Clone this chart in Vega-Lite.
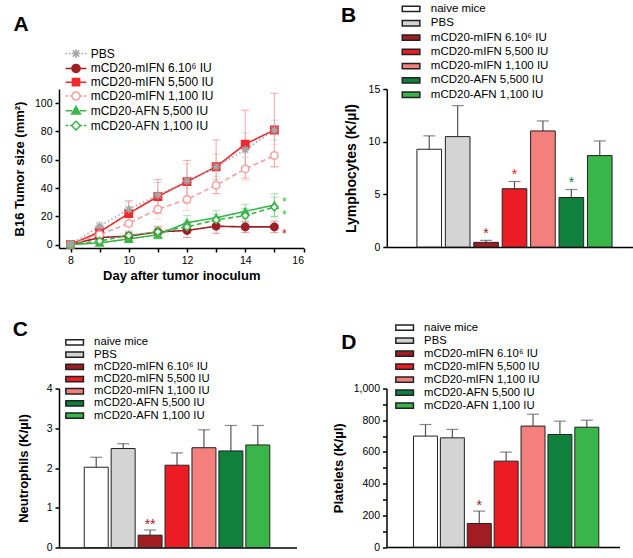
{
  "$schema": "https://vega.github.io/schema/vega-lite/v6.json",
  "background": "white",
  "padding": {"left": 12, "top": 3, "right": 0, "bottom": 0},
  "config": {
    "view": {"stroke": null},
    "font": "Liberation Sans",
    "axis": {"domainColor": "#000", "domainWidth": 1.5, "tickColor": "#000", "tickWidth": 1.5, "tickSize": 4, "labelColor": "#000", "labelFontSize": 10.5, "labelPadding": 3, "titleColor": "#000", "titleFontWeight": "bold", "titleFontSize": 13, "grid": false, "labelFont": "Liberation Sans", "titleFont": "Liberation Sans"},
    "legend": {"labelColor": "#000", "labelFont": "Liberation Sans", "padding": 0, "titlePadding": 0},
    "title": {"font": "Liberation Sans", "fontWeight": "bold", "fontSize": 21, "color": "#000", "anchor": "start", "frame": "bounds", "baseline": "alphabetic", "offset": 0}
  },
  "datasets": {
    "tumor": [
      {"g": "mCD20-mIFN 6.10⁶ IU", "day": 8, "v": 0, "se": 0},
      {"g": "mCD20-mIFN 6.10⁶ IU", "day": 9, "v": 5, "se": 2},
      {"g": "mCD20-mIFN 6.10⁶ IU", "day": 10, "v": 6, "se": 3},
      {"g": "mCD20-mIFN 6.10⁶ IU", "day": 11, "v": 9, "se": 4},
      {"g": "mCD20-mIFN 6.10⁶ IU", "day": 12, "v": 10, "se": 5},
      {"g": "mCD20-mIFN 6.10⁶ IU", "day": 13, "v": 13, "se": 5},
      {"g": "mCD20-mIFN 6.10⁶ IU", "day": 14, "v": 12.5, "se": 4},
      {"g": "mCD20-mIFN 6.10⁶ IU", "day": 15, "v": 12.5, "se": 4},
      {"g": "mCD20-mIFN 5,500 IU", "day": 8, "v": 0, "se": 0},
      {"g": "mCD20-mIFN 5,500 IU", "day": 9, "v": 9, "se": 4},
      {"g": "mCD20-mIFN 5,500 IU", "day": 10, "v": 22, "se": 9},
      {"g": "mCD20-mIFN 5,500 IU", "day": 11, "v": 34, "se": 12},
      {"g": "mCD20-mIFN 5,500 IU", "day": 12, "v": 44.5, "se": 15},
      {"g": "mCD20-mIFN 5,500 IU", "day": 13, "v": 55, "se": 19},
      {"g": "mCD20-mIFN 5,500 IU", "day": 14, "v": 71, "se": 24},
      {"g": "mCD20-mIFN 5,500 IU", "day": 15, "v": 81, "se": 26},
      {"g": "mCD20-mIFN 1,100 IU", "day": 8, "v": 0, "se": 0},
      {"g": "mCD20-mIFN 1,100 IU", "day": 9, "v": 7, "se": 3},
      {"g": "mCD20-mIFN 1,100 IU", "day": 10, "v": 15, "se": 5},
      {"g": "mCD20-mIFN 1,100 IU", "day": 11, "v": 25, "se": 7},
      {"g": "mCD20-mIFN 1,100 IU", "day": 12, "v": 32, "se": 8},
      {"g": "mCD20-mIFN 1,100 IU", "day": 13, "v": 42, "se": 6},
      {"g": "mCD20-mIFN 1,100 IU", "day": 14, "v": 53.5, "se": 8},
      {"g": "mCD20-mIFN 1,100 IU", "day": 15, "v": 63, "se": 8},
      {"g": "mCD20-AFN 5,500 IU", "day": 8, "v": 0, "se": 0},
      {"g": "mCD20-AFN 5,500 IU", "day": 9, "v": 1.2, "se": 1},
      {"g": "mCD20-AFN 5,500 IU", "day": 10, "v": 4, "se": 2},
      {"g": "mCD20-AFN 5,500 IU", "day": 11, "v": 7, "se": 3},
      {"g": "mCD20-AFN 5,500 IU", "day": 12, "v": 15.5, "se": 5},
      {"g": "mCD20-AFN 5,500 IU", "day": 13, "v": 19, "se": 5},
      {"g": "mCD20-AFN 5,500 IU", "day": 14, "v": 23.5, "se": 5},
      {"g": "mCD20-AFN 5,500 IU", "day": 15, "v": 28, "se": 8},
      {"g": "mCD20-AFN 1,100 IU", "day": 8, "v": 0, "se": 0},
      {"g": "mCD20-AFN 1,100 IU", "day": 9, "v": 2.5, "se": 1},
      {"g": "mCD20-AFN 1,100 IU", "day": 10, "v": 6.5, "se": 2},
      {"g": "mCD20-AFN 1,100 IU", "day": 11, "v": 9, "se": 3},
      {"g": "mCD20-AFN 1,100 IU", "day": 12, "v": 12.5, "se": 4},
      {"g": "mCD20-AFN 1,100 IU", "day": 13, "v": 17.5, "se": 4},
      {"g": "mCD20-AFN 1,100 IU", "day": 14, "v": 20.5, "se": 5},
      {"g": "mCD20-AFN 1,100 IU", "day": 15, "v": 26.5, "se": 7},
      {"g": "PBS", "day": 8, "v": 0, "se": 0},
      {"g": "PBS", "day": 9, "v": 13, "se": 3},
      {"g": "PBS", "day": 10, "v": 25, "se": 5},
      {"g": "PBS", "day": 11, "v": 35, "se": 9},
      {"g": "PBS", "day": 12, "v": 45, "se": 12},
      {"g": "PBS", "day": 13, "v": 55, "se": 9},
      {"g": "PBS", "day": 14, "v": 67, "se": 12},
      {"g": "PBS", "day": 15, "v": 81, "se": 7}
    ],
    "astar": [
      {"g": "mCD20-AFN 5,500 IU", "day": 15, "at": 33, "sig": "*"},
      {"g": "mCD20-AFN 1,100 IU", "day": 15, "at": 24, "sig": "*"},
      {"g": "mCD20-mIFN 6.10⁶ IU", "day": 15, "at": 10, "sig": "*"}
    ],
    "lym": [
      {"g": "naive mice", "v": 9.28, "hi": 10.55, "sig": ""},
      {"g": "PBS", "v": 10.48, "hi": 13.42, "sig": ""},
      {"g": "mCD20-mIFN 6.10⁶ IU", "v": 0.44, "hi": 0.63, "sig": "*"},
      {"g": "mCD20-mIFN 5,500 IU", "v": 5.53, "hi": 6.22, "sig": "*"},
      {"g": "mCD20-mIFN 1,100 IU", "v": 11.02, "hi": 11.97, "sig": ""},
      {"g": "mCD20-AFN 5,500 IU", "v": 4.7, "hi": 5.46, "sig": "*"},
      {"g": "mCD20-AFN 1,100 IU", "v": 8.68, "hi": 10.07, "sig": ""}
    ],
    "neu": [
      {"g": "naive mice", "v": 2.02, "hi": 2.27, "sig": ""},
      {"g": "PBS", "v": 2.49, "hi": 2.61, "sig": ""},
      {"g": "mCD20-mIFN 6.10⁶ IU", "v": 0.31, "hi": 0.44, "sig": "**"},
      {"g": "mCD20-mIFN 5,500 IU", "v": 2.07, "hi": 2.38, "sig": ""},
      {"g": "mCD20-mIFN 1,100 IU", "v": 2.51, "hi": 2.96, "sig": ""},
      {"g": "mCD20-AFN 5,500 IU", "v": 2.43, "hi": 3.07, "sig": ""},
      {"g": "mCD20-AFN 1,100 IU", "v": 2.58, "hi": 3.07, "sig": ""}
    ],
    "plt": [
      {"g": "naive mice", "v": 700, "hi": 773, "sig": ""},
      {"g": "PBS", "v": 689, "hi": 742, "sig": ""},
      {"g": "mCD20-mIFN 6.10⁶ IU", "v": 149, "hi": 227, "sig": "*"},
      {"g": "mCD20-mIFN 5,500 IU", "v": 542, "hi": 599, "sig": ""},
      {"g": "mCD20-mIFN 1,100 IU", "v": 763, "hi": 838, "sig": ""},
      {"g": "mCD20-AFN 5,500 IU", "v": 710, "hi": 794, "sig": ""},
      {"g": "mCD20-AFN 1,100 IU", "v": 756, "hi": 800, "sig": ""}
    ]
  },
  "spacing": 36.5,
  "resolve": {"scale": {"color": "independent", "fill": "independent", "shape": "independent", "strokeDash": "independent"}, "legend": {"color": "independent", "fill": "independent", "shape": "independent", "strokeDash": "independent"}},
  "vconcat": [
    {
      "bounds": "flush",
      "spacing": 82.8,
      "resolve": {"scale": {"color": "independent", "fill": "independent", "shape": "independent", "strokeDash": "independent"}, "legend": {"color": "independent", "fill": "independent", "shape": "independent", "strokeDash": "independent"}},
      "hconcat": [
        {
          "width": 244.5,
          "height": 159,
          "title": {"text": "A", "offset": 13, "dx": 0},
          "data": {"name": "tumor"},
          "encoding": {
            "x": {"field": "day", "type": "quantitative", "scale": {"domain": [7.605, 16], "nice": false, "zero": false},
              "axis": {"values": [8, 9, 10, 11, 12, 13, 14, 15, 16], "labelExpr": "datum.value % 2 == 0 ? datum.label : ''", "labelOverlap": false, "labelPadding": 3, "title": "Day after tumor inoculum", "titlePadding": 3.5}},
            "y": {"field": "v", "type": "quantitative", "title": "B16 Tumor size (mm²)", "scale": {"domain": [-2.4, 110], "nice": false, "zero": false},
              "axis": {"values": [0, 20, 40, 60, 80, 100], "labelOverlap": false, "titlePadding": 8}}
          },
          "layer": [
            {
              "mark": {"type": "line", "strokeWidth": 1.6},
              "encoding": {
                "color": {"field": "g", "type": "nominal",
                  "scale": {"domain": ["PBS", "mCD20-mIFN 6.10⁶ IU", "mCD20-mIFN 5,500 IU", "mCD20-mIFN 1,100 IU", "mCD20-AFN 5,500 IU", "mCD20-AFN 1,100 IU"],
                    "range": ["#a6a6a6", "#9e1f24", "#ee2a2f", "#f4a0a0", "#3cb54a", "#3cb54a"]},
                  "legend": {"title": null, "orient": "none", "legendX": 11, "legendY": -41.4, "symbolSize": 64, "labelFontSize": 12, "labelOffset": 8.7, "rowPadding": -0.2, "symbolStrokeWidth": 1.5,
                    "encode": {"symbols": {"update": {
                      "shape": {"signal": "['M-2.6,0L-2.2,0M-1.8,0L-1.4,0M1.4,0L1.8,0M2.2,0L2.6,0M0,-1.1L0,1.1M-1.1,0L1.1,0M-0.8,-0.8L0.8,0.8M-0.8,0.8L0.8,-0.8','M-2.6,0L-1,0M1,0L2.6,0M1,0A1,1,0,1,1,-1,0A1,1,0,1,1,1,0Z','M-2.6,0L-0.9,0M0.9,0L2.6,0M-0.9,-0.9L0.9,-0.9L0.9,0.9L-0.9,0.9Z','M-2.6,0L-1.9,0M-1.5,0L-1,0M1,0L1.5,0M1.9,0L2.6,0M1,0A1,1,0,1,1,-1,0A1,1,0,1,1,1,0Z','M-2.6,0L-1,0M1,0L2.6,0M0,-1.1L1.1,0.8L-1.1,0.8Z','M-2.6,0L-1.9,0M-1.5,0L-1.1,0M1.1,0L1.5,0M1.9,0L2.6,0M0,-1.1L1.1,0L0,1.1L-1.1,0Z'][indexof(['PBS','mCD20-mIFN 6.10⁶ IU','mCD20-mIFN 5,500 IU','mCD20-mIFN 1,100 IU','mCD20-AFN 5,500 IU','mCD20-AFN 1,100 IU'], datum.value)]"},
                      "fill": {"signal": "['#ffffff','#9e1f24','#ee2a2f','#ffffff','#3cb54a','#ffffff'][indexof(['PBS','mCD20-mIFN 6.10⁶ IU','mCD20-mIFN 5,500 IU','mCD20-mIFN 1,100 IU','mCD20-AFN 5,500 IU','mCD20-AFN 1,100 IU'], datum.value)]"},
                      "fillOpacity": {"signal": "[1,1,1,0,1,0][indexof(['PBS','mCD20-mIFN 6.10⁶ IU','mCD20-mIFN 5,500 IU','mCD20-mIFN 1,100 IU','mCD20-AFN 5,500 IU','mCD20-AFN 1,100 IU'], datum.value)]"},
                      "strokeDash": {"value": [1, 0]},
                      "strokeWidth": {"value": 1.5},
                      "opacity": {"value": 1}
                    }}}}},
                "strokeDash": {"field": "g", "type": "nominal", "legend": null,
                  "scale": {"domain": ["mCD20-mIFN 6.10⁶ IU", "mCD20-mIFN 5,500 IU", "mCD20-mIFN 1,100 IU", "mCD20-AFN 5,500 IU", "mCD20-AFN 1,100 IU", "PBS"],
                    "range": [[1, 0], [1, 0], [5, 3], [1, 0], [5, 3], [1.5, 2.5]]}}
              }
            },
            {
              "mark": {"type": "errorbar", "thickness": 1, "ticks": {"size": 8, "opacity": 0.4}, "rule": {"opacity": 0.4}},
              "encoding": {
                "yError": {"field": "se"},
                "color": {"field": "g", "type": "nominal"}
              }
            },
            {
              "mark": {"type": "point", "filled": false, "strokeWidth": 1.5, "size": 55, "opacity": 1},
              "encoding": {
                "color": {"field": "g", "type": "nominal"},
                "fill": {"field": "g", "type": "nominal", "legend": null,
                  "scale": {"domain": ["mCD20-mIFN 6.10⁶ IU", "mCD20-mIFN 5,500 IU", "mCD20-mIFN 1,100 IU", "mCD20-AFN 5,500 IU", "mCD20-AFN 1,100 IU", "PBS"],
                    "range": ["#9e1f24", "#ee2a2f", "#ffffff", "#3cb54a", "#ffffff", "#a6a6a6"]}},
                "shape": {"field": "g", "type": "nominal", "legend": null,
                  "scale": {"domain": ["mCD20-mIFN 6.10⁶ IU", "mCD20-mIFN 5,500 IU", "mCD20-mIFN 1,100 IU", "mCD20-AFN 5,500 IU", "mCD20-AFN 1,100 IU", "PBS"],
                    "range": ["circle", "square", "circle", "triangle-up", "diamond", "M0,-1.1L0,1.1M-1.1,0L1.1,0M-0.8,-0.8L0.8,0.8M-0.8,0.8L0.8,-0.8"]}}
              }
            },
            {
              "data": {"name": "astar"},
              "mark": {"type": "text", "fontSize": 12, "dx": 10, "dy": 4, "baseline": "middle", "align": "center"},
              "encoding": {
                "y": {"field": "at", "type": "quantitative"},
                "text": {"field": "sig"},
                "color": {"field": "g", "type": "nominal"}
              }
            }
          ]
        },
        {
          "width": 252,
          "height": 158,
          "title": {"text": "B", "dy": 26.8, "dx": -3},
          "data": {"name": "lym"},
          "encoding": {
            "x": {"field": "g", "type": "nominal", "sort": null, "scale": {"paddingInner": 0.133, "paddingOuter": 1.21, "align": 0.53},
              "axis": {"labels": false, "ticks": false, "title": null}},
            "y": {"field": "v", "type": "quantitative", "title": "Lymphocytes (K/µl)", "scale": {"domain": [0, 15], "nice": false},
              "axis": {"values": [0, 5, 10, 15], "labelOverlap": false, "titleFontSize": 14, "titlePadding": 10}}
          },
          "layer": [
            {"mark": {"type": "rule", "color": "#555", "strokeWidth": 1.2},
              "encoding": {"y2": {"field": "hi"}}},
            {"mark": {"type": "tick", "color": "#555", "thickness": 1.2, "size": 12},
              "encoding": {"y": {"field": "hi", "type": "quantitative", "title": "Lymphocytes (K/µl)"}}},
            {"mark": {"type": "bar", "stroke": "#222", "strokeWidth": 1},
              "encoding": {
                "fill": {"field": "g", "type": "nominal",
                  "scale": {"domain": ["naive mice", "PBS", "mCD20-mIFN 6.10⁶ IU", "mCD20-mIFN 5,500 IU", "mCD20-mIFN 1,100 IU", "mCD20-AFN 5,500 IU", "mCD20-AFN 1,100 IU"],
                    "range": ["#ffffff", "#d4d4d4", "#a11d22", "#ec1c24", "#f4807e", "#10803d", "#39b54a"]},
                  "legend": {"title": null, "orient": "none", "legendX": 18.5, "legendY": -85.8, "symbolType": "M-2.2,-0.66L2.2,-0.66L2.2,0.66L-2.2,0.66Z", "symbolSize": 64, "labelFontSize": 11.5, "labelOffset": 14, "rowPadding": 1.3,
                    "encode": {"symbols": {"update": {"stroke": {"value": "#000"}, "strokeWidth": {"value": 1}, "opacity": {"value": 1}}}}}}}},
            {"mark": {"type": "text", "fontSize": 14, "dy": -2, "baseline": "alphabetic"},
              "encoding": {"y": {"field": "hi", "type": "quantitative", "title": "Lymphocytes (K/µl)"}, "text": {"field": "sig"},
                "fill": {"field": "g", "type": "nominal"}}}
          ]
        }
      ]
    },
    {
      "bounds": "flush",
      "spacing": 89.5,
      "resolve": {"scale": {"color": "independent", "fill": "independent", "shape": "independent", "strokeDash": "independent"}, "legend": {"color": "independent", "fill": "independent", "shape": "independent", "strokeDash": "independent"}},
      "hconcat": [
        {
          "width": 237.5,
          "height": 159,
          "title": {"text": "C", "dy": 7.3, "dx": -5},
          "data": {"name": "neu"},
          "encoding": {
            "x": {"field": "g", "type": "nominal", "sort": null, "scale": {"paddingInner": 0.11, "paddingOuter": 0.964, "align": 0.486},
              "axis": {"labels": false, "ticks": false, "title": null}},
            "y": {"field": "v", "type": "quantitative", "title": "Neutrophils (K/µl)", "scale": {"domain": [0, 4], "nice": false},
              "axis": {"values": [0, 1, 2, 3, 4], "labelOverlap": false, "titlePadding": 15.5}}
          },
          "layer": [
            {"mark": {"type": "rule", "color": "#555", "strokeWidth": 1.2},
              "encoding": {"y2": {"field": "hi"}}},
            {"mark": {"type": "tick", "color": "#555", "thickness": 1.2, "size": 12},
              "encoding": {"y": {"field": "hi", "type": "quantitative", "title": "Neutrophils (K/µl)"}}},
            {"mark": {"type": "bar", "stroke": "#222", "strokeWidth": 1},
              "encoding": {
                "fill": {"field": "g", "type": "nominal",
                  "scale": {"domain": ["naive mice", "PBS", "mCD20-mIFN 6.10⁶ IU", "mCD20-mIFN 5,500 IU", "mCD20-mIFN 1,100 IU", "mCD20-AFN 5,500 IU", "mCD20-AFN 1,100 IU"],
                    "range": ["#ffffff", "#d4d4d4", "#a11d22", "#ec1c24", "#f4807e", "#10803d", "#39b54a"]},
                  "legend": {"title": null, "orient": "none", "legendX": 10, "legendY": -51.7, "symbolType": "M-2.2,-0.66L2.2,-0.66L2.2,0.66L-2.2,0.66Z", "symbolSize": 64, "labelFontSize": 11.3, "labelOffset": 13.8, "rowPadding": -0.8,
                    "encode": {"symbols": {"update": {"stroke": {"value": "#000"}, "strokeWidth": {"value": 1}, "opacity": {"value": 1}}}}}}}},
            {"mark": {"type": "text", "fontSize": 14, "dy": -1, "baseline": "alphabetic"},
              "encoding": {"y": {"field": "hi", "type": "quantitative", "title": "Neutrophils (K/µl)"}, "text": {"field": "sig"},
                "fill": {"field": "g", "type": "nominal"}}}
          ]
        },
        {
          "width": 233,
          "height": 158.6,
          "title": {"text": "D", "dy": 34.6, "dx": 9},
          "data": {"name": "plt"},
          "encoding": {
            "x": {"field": "g", "type": "nominal", "sort": null, "scale": {"paddingInner": 0.108, "paddingOuter": 0.887, "align": 0.566},
              "axis": {"labels": false, "ticks": false, "title": null}},
            "y": {"field": "v", "type": "quantitative", "title": "Platelets (K/µl)", "scale": {"domain": [0, 1000], "nice": false},
              "axis": {"values": [0, 100, 200, 300, 400, 500, 600, 700, 800, 900, 1000], "format": ",d", "labelExpr": "datum.value % 200 == 0 ? datum.label : ''", "labelOverlap": false, "titlePadding": 8}}
          },
          "layer": [
            {"mark": {"type": "rule", "color": "#555", "strokeWidth": 1.2},
              "encoding": {"y2": {"field": "hi"}}},
            {"mark": {"type": "tick", "color": "#555", "thickness": 1.2, "size": 12},
              "encoding": {"y": {"field": "hi", "type": "quantitative", "title": "Platelets (K/µl)"}}},
            {"mark": {"type": "bar", "stroke": "#222", "strokeWidth": 1},
              "encoding": {
                "fill": {"field": "g", "type": "nominal",
                  "scale": {"domain": ["naive mice", "PBS", "mCD20-mIFN 6.10⁶ IU", "mCD20-mIFN 5,500 IU", "mCD20-mIFN 1,100 IU", "mCD20-AFN 5,500 IU", "mCD20-AFN 1,100 IU"],
                    "range": ["#ffffff", "#d4d4d4", "#a11d22", "#ec1c24", "#f4807e", "#10803d", "#39b54a"]},
                  "legend": {"title": null, "orient": "none", "legendX": 12.5, "legendY": -66.6, "symbolType": "M-2.2,-0.66L2.2,-0.66L2.2,0.66L-2.2,0.66Z", "symbolSize": 64, "labelFontSize": 11.3, "labelOffset": 13.8, "rowPadding": 0,
                    "encode": {"symbols": {"update": {"stroke": {"value": "#000"}, "strokeWidth": {"value": 1}, "opacity": {"value": 1}}}}}}}},
            {"mark": {"type": "text", "fontSize": 14, "dy": -1, "baseline": "alphabetic"},
              "encoding": {"y": {"field": "hi", "type": "quantitative", "title": "Platelets (K/µl)"}, "text": {"field": "sig"},
                "fill": {"field": "g", "type": "nominal"}}}
          ]
        }
      ]
    }
  ]
}
